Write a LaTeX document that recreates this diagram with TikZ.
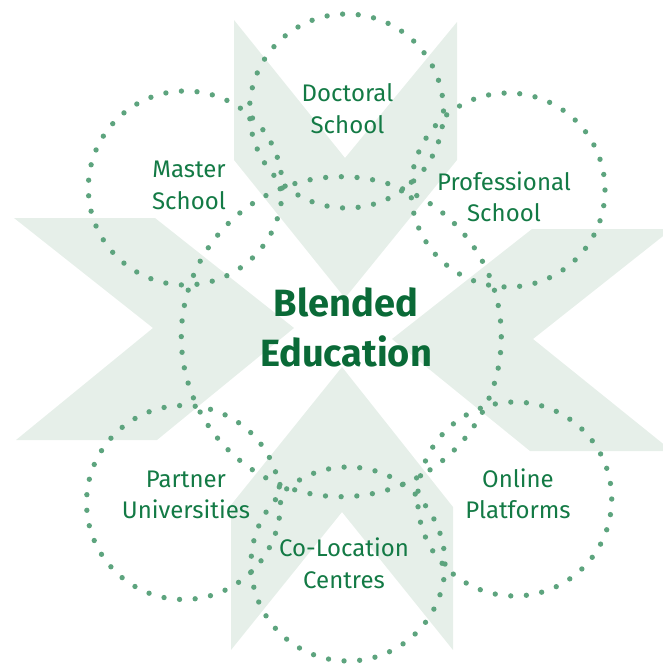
\documentclass[tikz,border=0pt]{standalone}
\usepackage{fontspec}
\setmainfont{Fira Sans}
\usepackage{xcolor}
\usepackage{tikz}
\definecolor{inkG}{HTML}{137A45}
\definecolor{inkD}{HTML}{0A6A37}
\definecolor{cLeaf}{HTML}{5DA47E}
\definecolor{lLeaf}{HTML}{E6EFE9}

\begin{document}
\begin{tikzpicture}[x=0.75pt, y=-0.75pt,
    ring/.style={circle, draw=cLeaf, line width=4pt, line cap=round,
                 dash pattern=on 0pt off 11.72pt, inner sep=0pt,
                 minimum size=145.5pt},
    hub/.style={ring, dash pattern=on 0pt off 11.78pt, minimum size=240pt},
    lbl/.style={align=center, anchor=base, text=inkG,
                font=\fontsize{18}{23.5}\selectfont},
    hubtext/.style={align=center, anchor=base, text=inkD,
                font=\bfseries\fontsize{28.5}{37.5}\selectfont}]
  \useasboundingbox (0,0) rectangle (662,667);

  \fill[lLeaf] (234,20) -- (345,158) -- (457,22) -- (457,160) -- (345,298) -- (234,160) -- cycle;
  \fill[lLeaf] (231,650) -- (342,512) -- (453,650) -- (453,507) -- (342,367) -- (231,505) -- cycle;
  \fill[lLeaf] (14,218) -- (155,218) -- (294,328) -- (157,440) -- (16,440) -- (153,328) -- cycle;
  \fill[lLeaf] (532,229) -- (672,229) -- (533,339) -- (672,451) -- (530,451) -- (392,339) -- cycle;

  \node[hub] (hub) at (341.3,336.7) {};
  \node[ring] (doctoral) at (346.5,111) {};
  \node[ring] (master) at (185.3,188) {};
  \node[ring] (professional) at (508,190) {};
  \node[ring] (partner) at (183.5,502.5) {};
  \node[ring] (online) at (514.7,499) {};
  \node[ring] (colocation) at (348,564) {};

  \node[hubtext] (blended) at (346,366.7) {Blended\\Education};
  \node[lbl] (doctext) at (347.5,133.3) {Doctoral\\School};
  \node[lbl] (mastext) at (189,209) {Master\\School};
  \node[lbl] (protext) at (504,221.7) {Professional\\School};
  \node[lbl] (partext) at (186,518.5) {Partner\\Universities};
  \node[lbl] (onltext) at (518,518.5) {Online\\Platforms};
  \node[lbl] (coltext) at (344,588) {Co-Location\\Centres};
\end{tikzpicture}
\end{document}
